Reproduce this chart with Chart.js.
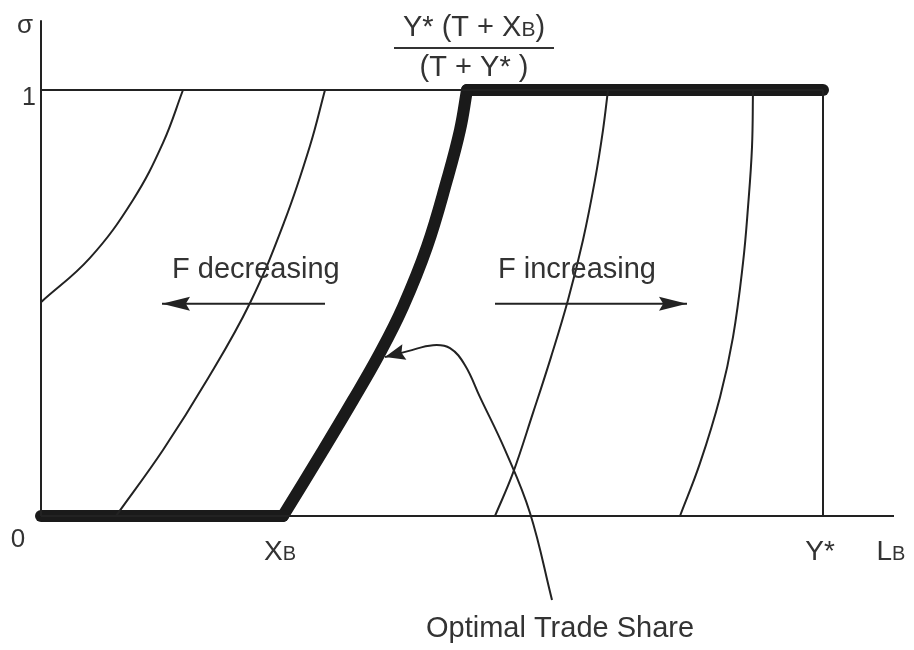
<!DOCTYPE html>
<html>
<head>
<meta charset="utf-8">
<script src="https://cdn.jsdelivr.net/npm/chart.js@4.4.0/dist/chart.umd.min.js"></script>
<style>
  html, body { margin: 0; padding: 0; background: #fff; }
  #wrap { width: 914px; height: 650px; }
</style>
</head>
<body>
<div id="wrap"><canvas id="chart" width="914" height="650"></canvas></div>
<script>
// L_B measured from the origin (O), sigma from 0 to 1
const XB = 242;
const Ystar = 782;
const LBend = 853;
const sigmaTop = 1.164;

// thin iso-curves, left to right
const curve1X = [0, 49, 92, 122, 142];
const curve1Y = [0.502, 0.606, 0.742, 0.876, 1.0];
const curve2X = [75, 122, 166, 209, 244, 269, 284];
const curve2Y = [0, 0.155, 0.319, 0.500, 0.695, 0.869, 1.0];
const curve3X = [454, 472, 492, 510, 527, 542, 554, 562, 567];
const curve3Y = [0, 0.101, 0.242, 0.373, 0.507, 0.648, 0.789, 0.906, 1.0];
const curve4X = [639, 659, 679, 692, 702, 707, 711, 712];
const curve4Y = [0, 0.124, 0.279, 0.420, 0.594, 0.725, 0.866, 1.0];

// optimal trade share (thick)
const optX = [242, 281, 312, 339, 362, 386, 406, 419, 426];
const optY = [0, 0.150, 0.272, 0.383, 0.491, 0.632, 0.789, 0.906, 1.0];

// pointer from the label to the thick curve
const pointerX = [511, 489, 464, 439, 424, 409, 392, 367, 344];
const pointerY = [-0.197, 0.007, 0.155, 0.279, 0.354, 0.394, 0.401, 0.387, 0.373];

// direction arrows (sigma level, start, end)
const arrowSigma = 0.498;
const decArrowX = [284, 121];
const incArrowX = [454, 646];

// axis labels
const xTickValues = [XB, Ystar, LBend];
const xTickLabels = [["X", "B"], ["Y*", ""], ["L", "B"]];
const yTickValues = [0, 1];
const yTickLabels = ["0", "1"];

const INK = "#222";
const TEXT = "#333";
const FONT = "'Liberation Sans', Arial, Helvetica, sans-serif";

function pts(xs, ys) {
    return xs.map((x, i) => ({ x: x, y: ys[i] }));
}

function thin(data, extra) {
    return Object.assign({
        data: data,
        showLine: true,
        borderColor: INK,
        borderWidth: 2,
        pointRadius: 0,
        tension: 0.4,
        fill: false
    }, extra || {});
}

function thick(data) {
    return {
        data: data,
        showLine: true,
        borderColor: "#1a1a1a",
        borderWidth: 12,
        borderCapStyle: "round",
        borderJoinStyle: "round",
        pointRadius: 0,
        tension: 0.4,
        fill: false
    };
}

const datasets = [
    // axes and frame lines
    thin(pts([0, 0], [0, sigmaTop])),
    thin(pts([0, LBend], [0, 0])),
    thin(pts([0, Ystar], [1, 1])),
    thin(pts([Ystar, Ystar], [0, 1])),
    // iso curves
    thin(pts(curve1X, curve1Y)),
    thin(pts(curve2X, curve2Y)),
    thin(pts(curve3X, curve3Y)),
    thin(pts(curve4X, curve4Y)),
    // optimal trade share
    thick(pts([0, XB], [0, 0])),
    thick(pts(optX, optY)),
    thick(pts([optX[optX.length - 1], Ystar], [1, 1])),
    // arrows
    thin(pts(decArrowX, [arrowSigma, arrowSigma]), { arrow: { len: 28, half: 7 } }),
    thin(pts(incArrowX, [arrowSigma, arrowSigma]), { arrow: { len: 28, half: 7 } }),
    thin(pts(pointerX, pointerY), { arrow: { len: 20, half: 8 } })
];

// draws arrowheads at the last point of datasets flagged with "arrow"
const arrowPlugin = {
    id: "arrowHeads",
    afterDatasetsDraw(chart) {
        const ctx = chart.ctx;
        chart.data.datasets.forEach((ds, i) => {
            if (!ds.arrow) return;
            const els = chart.getDatasetMeta(i).data;
            const a = els[els.length - 2], b = els[els.length - 1];
            const ang = Math.atan2(b.y - a.y, b.x - a.x);
            const L = ds.arrow.len, H = ds.arrow.half;
            ctx.save();
            ctx.translate(b.x, b.y);
            ctx.rotate(ang);
            ctx.fillStyle = INK;
            ctx.beginPath();
            ctx.moveTo(0, 0);
            ctx.lineTo(-L, -H);
            ctx.lineTo(-L * 0.85, 0);
            ctx.lineTo(-L, H);
            ctx.closePath();
            ctx.fill();
            ctx.restore();
        });
    }
};

// text pieces: [text, fontSize]
function drawPieces(ctx, pieces, x, y, align) {
    let w = 0;
    pieces.forEach(p => { ctx.font = p[1] + "px " + FONT; w += ctx.measureText(p[0]).width; });
    let cx = align === "center" ? x - w / 2 : (align === "right" ? x - w : x);
    ctx.textAlign = "left";
    pieces.forEach(p => {
        ctx.font = p[1] + "px " + FONT;
        ctx.fillText(p[0], cx, y);
        cx += ctx.measureText(p[0]).width;
    });
}

const labelPlugin = {
    id: "labels",
    afterDraw(chart) {
        const ctx = chart.ctx;
        const sx = chart.scales.x, sy = chart.scales.y;
        const X = v => sx.getPixelForValue(v);
        const Y = v => sy.getPixelForValue(v);
        ctx.save();
        ctx.fillStyle = TEXT;
        ctx.textBaseline = "alphabetic";

        // y axis
        ctx.font = "26px " + FONT;
        ctx.textAlign = "center";
        ctx.fillText("σ", X(0) - 16, Y(sigmaTop) + 13);
        ctx.fillText(yTickLabels[0], X(0) - 23, Y(yTickValues[0]) + 31);
        ctx.textAlign = "right";
        ctx.font = "25px " + FONT;
        ctx.fillText(yTickLabels[1], X(0) - 5, Y(yTickValues[1]) + 15);

        // x axis
        xTickValues.forEach((v, i) => {
            const lab = xTickLabels[i];
            const pcs = [[lab[0], 28]];
            if (lab[1]) pcs.push([lab[1], 20]);
            drawPieces(ctx, pcs, X(v) - 3, Y(0) + 44, "center");
        });

        // fraction above the kink
        const fx = X(optX[optX.length - 1]) + 7;
        drawPieces(ctx, [["Y* (T + X", 29], ["B", 21], [")", 29]], fx, Y(1) - 54, "center");
        drawPieces(ctx, [["(T + Y* )", 29]], fx, Y(1) - 14, "center");
        ctx.strokeStyle = TEXT;
        ctx.lineWidth = 2;
        ctx.beginPath();
        ctx.moveTo(fx - 80, Y(1) - 42);
        ctx.lineTo(fx + 80, Y(1) - 42);
        ctx.stroke();

        // annotations
        ctx.font = "29px " + FONT;
        ctx.textAlign = "left";
        ctx.fillText("F decreasing", X(131), Y(arrowSigma) - 26);
        ctx.fillText("F increasing", X(457), Y(arrowSigma) - 26);
        ctx.fillText("Optimal Trade Share", X(385), Y(pointerY[0]) + 37);
        ctx.restore();
    }
};

new Chart(document.getElementById("chart"), {
    type: "scatter",
    data: { datasets: datasets },
    options: {
        responsive: false,
        animation: false,
        layout: { padding: 0 },
        plugins: {
            legend: { display: false },
            tooltip: { enabled: false }
        },
        scales: {
            x: { type: "linear", display: false, min: -41, max: 873 },
            y: { type: "linear", display: false, min: -0.3146, max: 1.2113 }
        }
    },
    plugins: [arrowPlugin, labelPlugin]
});
</script>
</body>
</html>
